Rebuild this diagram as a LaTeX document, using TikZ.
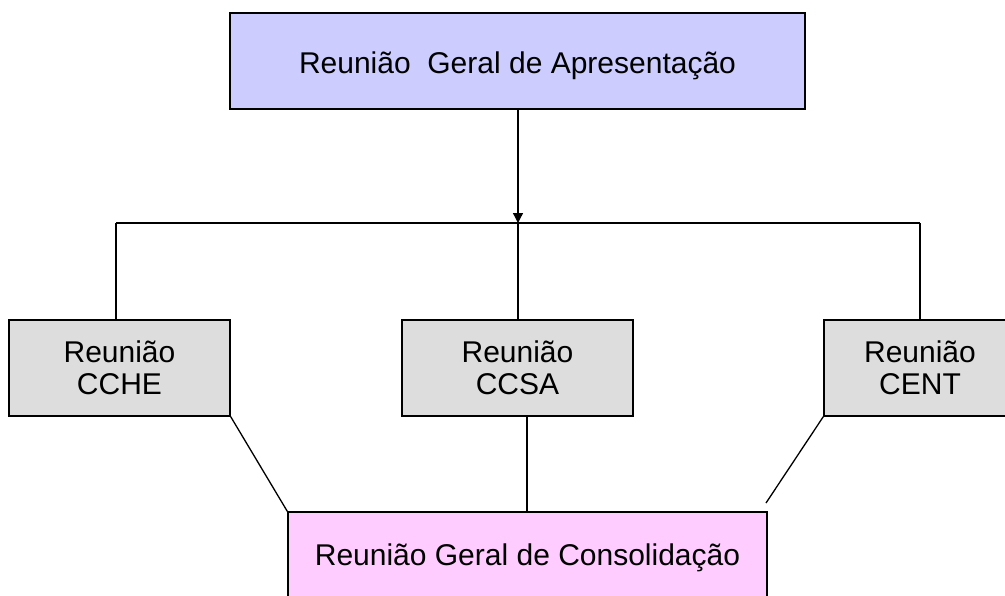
\documentclass[tikz,border=0pt]{standalone}
\usepackage{fontspec}
\setmainfont{Liberation Sans}
\usetikzlibrary{arrows.meta}
\definecolor{topfill}{HTML}{CCCCFF}
\definecolor{grayfill}{HTML}{DDDDDD}
\definecolor{pinkfill}{HTML}{FFCCFF}
\begin{document}
\begin{tikzpicture}[x=1pt,y=-1pt,
  box/.style={draw=black,line width=1.5pt,rectangle,inner sep=0pt,align=center,
    font=\fontsize{30}{32}\selectfont},
  conn/.style={line width=1.3pt,draw=black}]
\useasboundingbox (0,0) rectangle (1005,595);
\clip (0,0) rectangle (1005,595);
\node[box,fill=topfill,minimum width=575pt,text height=60pt,text depth=36pt,anchor=base] (top) at (517.5,73) {Reunião\ \ Geral de Apresentação};
\node[box,fill=grayfill,minimum width=221pt,minimum height=96pt] (cche) at (119.5,368) {Reunião\\CCHE};
\node[box,fill=grayfill,minimum width=231pt,minimum height=96pt] (ccsa) at (517.5,368) {Reunião\\CCSA};
\node[box,fill=grayfill,minimum width=192pt,minimum height=96pt] (cent) at (920,368) {Reunião\\CENT};
\node[box,fill=pinkfill,minimum width=479pt,text height=53pt,text depth=80pt,anchor=base] (cons) at (527.5,565) {Reunião Geral de Consolidação};
\coordinate (j) at (518,223);
\coordinate (jl) at (116,223);
\coordinate (jr) at (920,223);
\coordinate (mtop) at (518,109);
\coordinate (mb1) at (527,416);
\coordinate (mb2) at (527,512);
\coordinate (rend) at (766,503);
\draw[conn,-{Triangle[length=10pt,width=10pt]}] (mtop) -- (j);
\draw[conn] (jl) -- (jr);
\draw[conn] (jl) -- (jl |- cche.north);
\draw[conn] (j) -- (j |- ccsa.north);
\draw[conn] (jr) -- (jr |- cent.north);
\draw[conn] (cche.south east) -- (cons.north west);
\draw[conn] (mb1) -- (mb2);
\draw[conn] (cent.south west) -- (rend);
\end{tikzpicture}
\end{document}
